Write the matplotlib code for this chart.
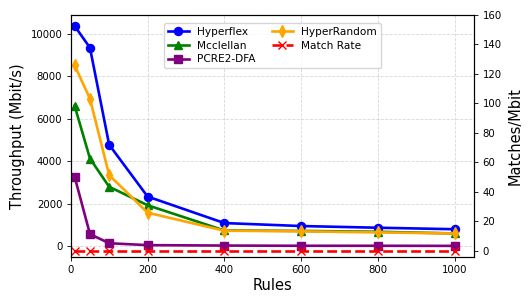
import matplotlib
matplotlib.use("Agg")
import matplotlib.pyplot as plt

rules = [10, 50, 100, 200, 400, 600, 800, 1000]
hyperflex = [10380, 9350, 4780, 2340, 1090, 950, 870, 800]
mcclellan = [6620, 4130, 2800, 1930, 740, 720, 680, 600]
pcre2 = [3280, 570, 140, 50, 30, 20, 20, 15]
hyperrandom = [8520, 6950, 3350, 1580, 730, 700, 650, 600]
match_rate = [0, 0, 0, 0, 0, 0, 0, 0]

fig = plt.figure(figsize=(5.32, 3.04), dpi=100)
ax = fig.add_axes([0.133, 0.155, 0.758, 0.796])
ax2 = ax.twinx()

lw, ms = 1.9, 5.8
l1, = ax.plot(rules, hyperflex, '-o', color='blue', lw=lw, ms=ms, label='Hyperflex')
l2, = ax.plot(rules, mcclellan, '-^', color='green', lw=lw, ms=ms, label='Mcclellan')
l3, = ax.plot(rules, pcre2, '-s', color='purple', lw=lw, ms=ms, label='PCRE2-DFA')
l4, = ax.plot(rules, hyperrandom, '-d', color='orange', lw=lw, ms=ms, label='HyperRandom')
l5, = ax2.plot(rules, match_rate, '--x', color='red', lw=lw, ms=ms, label='Match Rate')

ax.set_xlim(0, 1050)
ax2.set_ylim(-4, 160)
ax.set_xlabel('Rules', fontsize=10.5, labelpad=2)
ax.set_ylabel('Throughput (Mbit/s)', fontsize=10.5)
ax2.set_ylabel('Matches/Mbit', fontsize=10.5)
for a in (ax, ax2):
    a.tick_params(labelsize=7.3, length=2.6, width=0.6)
    for s in a.spines.values():
        s.set_linewidth(0.8)
ax.grid(True, linestyle='--', alpha=0.5, linewidth=0.6)

ax.legend([l1, l2, l3, l4, l5], [l.get_label() for l in [l1, l2, l3, l4, l5]],
          ncol=2, loc='upper center', bbox_to_anchor=(0.5, 0.99), fontsize=7.6,
          labelspacing=0.35, columnspacing=1.5)

fig.savefig('out.png', dpi=100)
